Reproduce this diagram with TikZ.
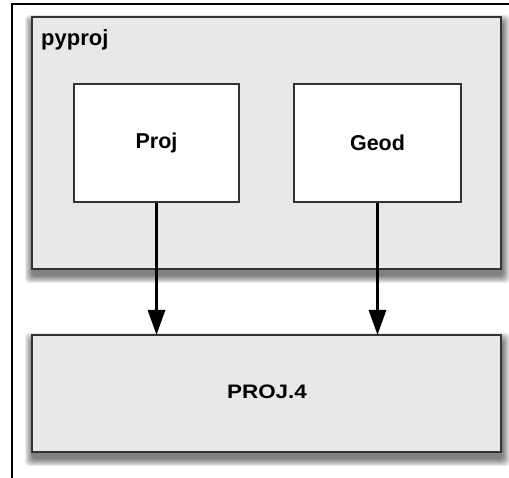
\documentclass[tikz,border=0pt]{standalone}
\usepackage{fontspec}
\setmainfont{Liberation Sans}
\usetikzlibrary{arrows.meta}
\definecolor{boxfill}{HTML}{E8E8E8}
\definecolor{boxline}{HTML}{333333}
\tikzset{
  boxbody/.style={draw=boxline, line width=2pt, fill=boxfill},
  smallbox/.style={draw=boxline, line width=1.6pt, fill=white},
  lbl/.style={font=\fontsize{21.5}{26}\selectfont\bfseries, text=black},
  conn/.style={line width=3pt, draw=black, -{Triangle[width=17pt,length=25pt,fill=black]}},
  frame/.style={line width=1.5pt, black},
  shadowlayer/.style={fill=black, opacity=0.08, rounded corners=4pt}
}
% soft drop shadow built from stacked translucent rectangles
\newcommand{\softshadow}[4]{%
  \foreach \k in {1,...,8}{%
    \fill[shadowlayer] ({#1+1-9+\k},{#2+6-9+\k}) rectangle ({#3+1+9-\k},{#4+6+9-\k});
  }%
}
\begin{document}
\begin{tikzpicture}[x=1pt,y=-1pt]
\useasboundingbox (0,0) rectangle (509,478);
\fill[white] (0,0) rectangle (509,478);
% frame (top and left edges only)
\coordinate (ftl) at (12,4);
\coordinate (ftr) at (509,4);
\coordinate (fbl) at (12,478);
\draw[frame] (ftr) -- (ftl) -- (fbl);
% pyproj container
\softshadow{32}{17}{501}{269}
\path[boxbody] (32,17) rectangle (501,269);
\node[lbl, font=\fontsize{22}{26}\selectfont\bfseries, anchor=base west, inner sep=0pt] (pyproj) at (41,46) {pyproj};
% PROJ.4
\softshadow{32}{335}{501}{452}
\path[boxbody] (32,335) rectangle (501,452);
\node[lbl, font=\fontsize{19.5}{24}\selectfont\bfseries] (p4) at (267,392) {\scalebox{1.15}[1]{PROJ.4}};
\coordinate (p4top) at (266.5,335);
% inner boxes
\node[smallbox, minimum width=165pt, minimum height=118pt, inner sep=0pt, lbl] (proj) at (156.5,143) {Proj};
\node[smallbox, minimum width=167pt, minimum height=118pt, inner sep=0pt, lbl] (geod) at (377.5,143) {Geod};
% connectors
\draw[conn] (proj.south) -- (proj.south |- p4top);
\draw[conn] (geod.south) -- (geod.south |- p4top);
\end{tikzpicture}
\end{document}
